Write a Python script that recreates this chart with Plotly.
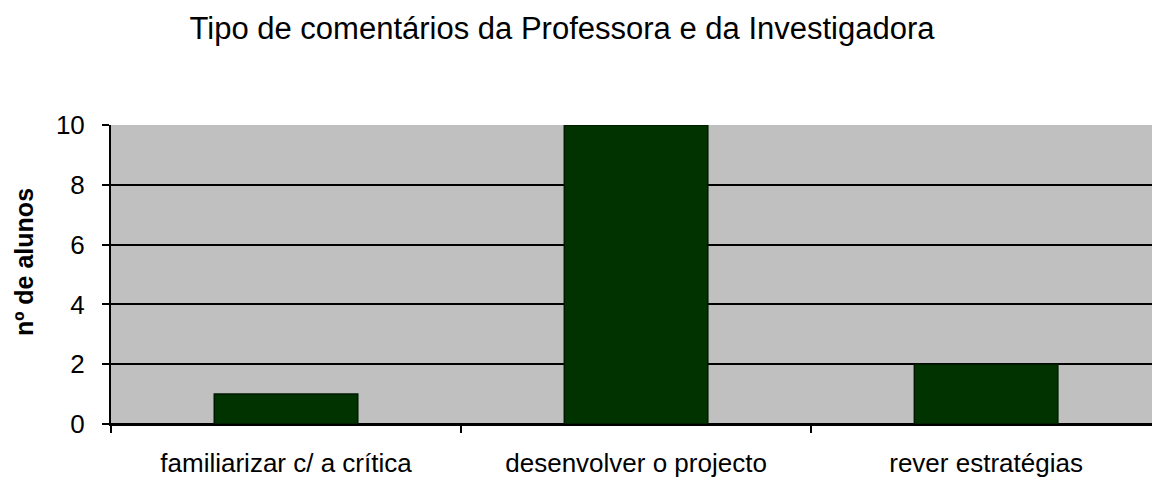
import plotly.graph_objects as go

categories = ["familiarizar c/ a crítica", "desenvolver o projecto", "rever estratégias"]
values = [1, 10, 2]
y_ticks = [0, 2, 4, 6, 8, 10]
title_text = "Tipo de comentários da Professora e da Investigadora"
y_title = "nº de alunos"

font_family = "Liberation Sans, Arial, sans-serif"

fig = go.Figure()
fig.add_trace(go.Bar(
    x=categories,
    y=values,
    width=0.41,
    marker=dict(color="#003300", line=dict(color="#001a00", width=1.5)),
    showlegend=False,
))

fig.update_layout(
    width=1152,
    height=480,
    margin=dict(l=111, r=0, t=125, b=56),
    paper_bgcolor="white",
    plot_bgcolor="#C0C0C0",
    title=dict(
        text=title_text,
        x=562 / 1152,
        xanchor="center",
        y=1 - 28 / 480,
        yanchor="middle",
        font=dict(family=font_family, size=31, color="black"),
    ),
    font=dict(family=font_family, color="black"),
    annotations=[dict(
        text="<b>" + y_title + "</b>",
        xref="paper", yref="paper",
        x=-87 / 1041, y=(424 - 262) / 299,
        xanchor="center", yanchor="middle",
        textangle=-90,
        showarrow=False,
        font=dict(family=font_family, size=25, color="black"),
    )],
)

fig.update_xaxes(
    type="category",
    range=[-0.5, 2.474],
    showgrid=False,
    showline=True,
    linecolor="black",
    linewidth=2,
    ticks="outside",
    tickson="boundaries",
    ticklen=7,
    tickwidth=2,
    tickcolor="black",
    ticklabelstandoff=15,
    tickfont=dict(family=font_family, size=26, color="black"),
)

fig.update_yaxes(
    range=[0, 10],
    tickvals=y_ticks,
    showgrid=True,
    gridcolor="black",
    gridwidth=1.5,
    zeroline=True,
    zerolinecolor="black",
    zerolinewidth=2,
    showline=True,
    linecolor="black",
    linewidth=2,
    ticks="outside",
    ticklen=7,
    tickwidth=2,
    tickcolor="black",
    ticklabelstandoff=12,
    tickfont=dict(family=font_family, size=26, color="black"),
)

fig.write_html("out.html")
